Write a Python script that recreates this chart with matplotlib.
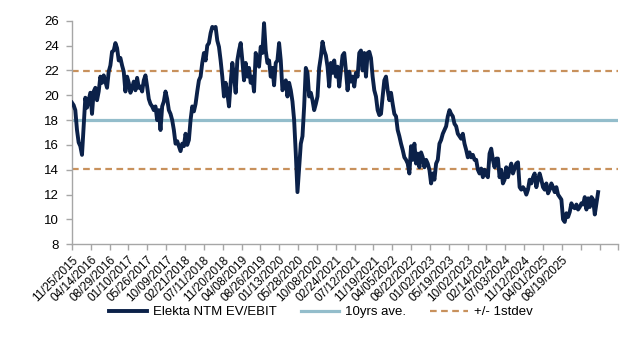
import matplotlib
matplotlib.use("Agg")
import matplotlib.pyplot as plt
import numpy as np

plt.rcParams["font.family"] = ["Liberation Sans", "DejaVu Sans"]

# Elekta NTM EV/EBIT at a fixed step (~11 readings per label)
ev_ebit_2015_2017 = [
    19.4, 19.2, 18.8, 17.2, 16.2, 15.9, 15.2, 17.5, 19.8, 19.0, 19.6, 20.2, 18.5,
    20.3, 20.6, 19.6, 20.3, 21.5, 21.0, 21.6, 21.1, 20.6, 21.9, 22.4, 23.5, 23.6,
    24.2, 23.8, 22.8, 23.0, 22.4, 21.9, 20.3, 21.5, 21.0, 20.2, 20.6, 21.1, 20.4,
    21.4, 20.6, 20.7, 20.3, 21.2, 21.6, 20.7, 19.7, 19.3, 19.1, 18.8, 19.1, 18.0,
    18.8, 17.2, 19.1, 19.5, 20.3, 19.7, 18.8, 18.5, 18.0, 17.2, 16.1,
]
ev_ebit_2017_2019 = [
    16.3, 15.9, 15.5, 16.1, 15.9, 16.9, 16.0, 16.4, 18.0, 19.1, 18.7, 19.3, 20.3,
    21.2, 21.5, 22.6, 23.4, 22.8, 24.0, 24.2, 25.0, 25.5, 25.4, 25.5, 24.4, 23.9,
    22.8, 21.5, 19.9, 21.0, 20.2, 19.1, 21.0, 22.6, 21.5, 20.2, 22.8, 23.6, 24.2,
    22.8, 21.2, 22.6, 21.5, 22.2, 21.0, 21.5, 20.3, 23.4, 22.8, 22.3, 23.9, 23.4,
    25.8, 23.6, 22.6, 22.8, 21.5, 22.2, 20.8, 22.6, 22.8, 24.2, 22.8, 20.4,
]
ev_ebit_2020_2021 = [
    20.7, 21.2, 19.9, 21.0, 20.4, 19.5, 18.0, 15.3, 12.2, 14.2, 16.1, 16.7, 19.1,
    22.2, 21.8, 19.9, 20.2, 19.6, 18.8, 19.3, 19.9, 22.2, 23.1, 24.3, 23.6, 23.2,
    22.3, 20.7, 22.6, 21.8, 22.8, 21.5, 22.3, 20.7, 22.0, 23.2, 23.4, 22.0, 20.4,
    21.9, 21.1, 21.5, 20.7, 21.8, 21.5, 23.4, 23.6, 22.0, 23.4, 21.5, 23.4, 23.5,
    23.0, 21.5, 20.4, 19.9, 18.8, 18.4, 18.5, 19.9, 21.2, 21.5, 20.4, 19.6,
]
ev_ebit_2022_2024 = [
    20.2, 19.3, 18.5, 18.3, 17.2, 16.7, 16.1, 15.6, 15.0, 14.8, 14.5, 13.7, 15.9,
    14.8, 16.1, 14.5, 15.3, 14.2, 15.4, 15.0, 14.2, 14.8, 14.5, 14.0, 12.9, 13.7,
    13.2, 14.5, 14.8, 16.1, 16.4, 16.9, 17.2, 17.5, 18.3, 18.8, 18.5, 18.3, 17.7,
    17.5, 16.9, 16.7, 16.5, 16.9, 16.1, 15.6, 15.0, 15.4, 15.0, 15.2, 14.8, 14.8,
    14.0, 13.7, 14.1, 13.4, 14.0, 13.6, 13.4, 15.3, 15.7, 14.8, 14.2, 14.9,
]
ev_ebit_2024_2025 = [
    14.9, 13.4, 14.0, 12.9, 13.2, 14.2, 13.4, 14.0, 14.5, 13.7, 14.1, 14.5, 14.6,
    12.6, 12.4, 12.6, 12.4, 12.0, 12.4, 13.2, 12.9, 13.4, 13.7, 12.6, 13.2, 13.7,
    13.2, 12.6, 12.4, 12.9, 12.1, 12.4, 12.9, 12.6, 12.2, 12.6, 12.0, 11.8, 11.6,
    10.0, 9.8, 10.5, 10.2, 10.6, 11.3, 11.0, 10.9, 11.2, 10.8, 11.0, 11.3, 11.2,
    11.8, 10.8, 11.7, 11.0, 11.8, 11.6, 10.4, 11.3, 12.2,
]

ten_year_avg = 18.0
stdev_low = 14.05
stdev_high = 21.95

tick_labels = [
    "11/25/2015", "04/14/2016", "08/29/2016", "01/10/2017", "05/26/2017",
    "10/09/2017", "02/21/2018", "07/11/2018", "11/20/2018", "04/08/2019",
    "08/26/2019", "01/13/2020", "05/28/2020", "10/08/2020", "02/24/2021",
    "07/12/2021", "11/19/2021", "04/05/2022", "08/22/2022", "01/02/2023",
    "05/19/2023", "10/02/2023", "02/14/2024", "07/03/2024", "11/12/2024",
    "04/01/2025", "08/19/2025",
]
n_ticks = 30
readings_per_tick = 11.28

NAVY = "#0b2149"
LIGHT_BLUE = "#93bdcb"
TAN = "#c8915c"
AXIS_GREY = "#a6a6a6"

values = np.concatenate([
    ev_ebit_2015_2017, ev_ebit_2017_2019, ev_ebit_2020_2021,
    ev_ebit_2022_2024, ev_ebit_2024_2025,
])
x = np.arange(len(values)) / readings_per_tick

fig = plt.figure(figsize=(6.42, 3.57), dpi=100)
ax = fig.add_axes([0.1121, 0.3157, 0.8511, 0.6263])

ax.plot(x, values, color=NAVY, lw=2.8, solid_joinstyle="round",
        label="Elekta NTM EV/EBIT", zorder=3)
ax.axhline(ten_year_avg, color=LIGHT_BLUE, lw=2.3, label="10yrs ave.", zorder=2)
ax.axhline(stdev_high, color=TAN, lw=1.6, dashes=(3.0, 2.0),
           label="+/- 1stdev", zorder=2)
ax.axhline(stdev_low, color=TAN, lw=1.6, dashes=(3.0, 2.0), zorder=2)

ax.set_xlim(0, n_ticks - 1)
ax.set_xticks(range(n_ticks))
ax.set_xticklabels(tick_labels + [""] * (n_ticks - len(tick_labels)),
                   rotation=45, ha="right", rotation_mode="anchor",
                   fontsize=8.5)
ax.set_ylim(8, 26)
ax.set_yticks(range(8, 27, 2))

for side in ["top", "right"]:
    ax.spines[side].set_visible(False)
for side in ["left", "bottom"]:
    ax.spines[side].set_color(AXIS_GREY)
    ax.spines[side].set_linewidth(1.0)
ax.tick_params(axis="both", colors=AXIS_GREY, labelcolor="black",
               length=4, width=1.0)
ax.tick_params(axis="y", labelsize=9.5, pad=5.5)
ax.tick_params(axis="x", pad=3)

fig.legend(loc="center", bbox_to_anchor=(0.5, 0.126), ncol=3, frameon=False,
           fontsize=9.5, handlelength=2.9, handletextpad=0.45,
           columnspacing=1.8)

fig.savefig("out.png", dpi=100)
